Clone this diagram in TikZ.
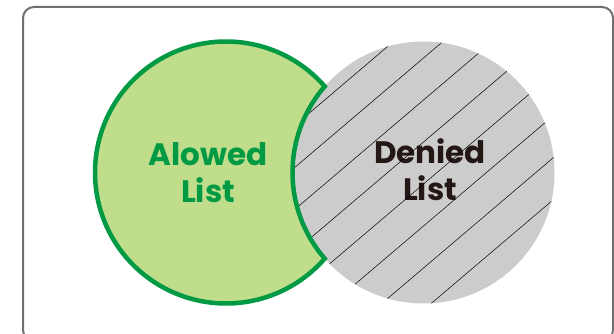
\documentclass[tikz,border=0pt]{standalone}
\usepackage{fontspec}
\setmainfont{Poppins}
\definecolor{listgreen}{RGB}{0,153,68}
\definecolor{listlight}{RGB}{191,221,138}
\definecolor{listgray}{RGB}{204,204,204}
\definecolor{framegray}{RGB}{112,112,112}
\definecolor{textdark}{RGB}{35,24,21}

\begin{document}
\begin{tikzpicture}[
    x=1pt, y=1pt,
    frame/.style={draw=framegray, line width=2pt, rounded corners=11pt},
    label/.style={font=\fontsize{31}{37}\selectfont\bfseries, align=center, inner sep=0pt},
    hatch/.style={draw=black, line width=0.5pt}
]
\useasboundingbox (0,0) rectangle (614,333);
\clip (0,0) rectangle (614,333);

% outer frame
\draw[frame] (23,326) rectangle (613,-8);

% centres of the two sets
\coordinate (allow) at (226,160.5);
\coordinate (deny) at (423.5,160.5);

% denied set, grey with hatching
\fill[listgray] (deny) circle (131);
\node[label, text=textdark] (denied) at (430,163.5) {Denied\\List};
\begin{scope}
  \clip (deny) circle (131);
  \foreach \c in {376,418,...,670}
    \draw[hatch] (250,{545.5-\c}) -- (600,{843-\c});
\end{scope}

% allowed set, cut by the denied set
\draw[draw=listgreen, fill=listlight, line width=4.5pt, line join=miter]
  ([shift={(41.08:131)}]allow) arc[start angle=41.08, end angle=318.92, radius=131]
  arc[start angle=221.08, end angle=138.92, radius=131] -- cycle;
\node[label, text=listgreen] (allowed) at (208,160) {Alowed\\List};
\end{tikzpicture}
\end{document}
